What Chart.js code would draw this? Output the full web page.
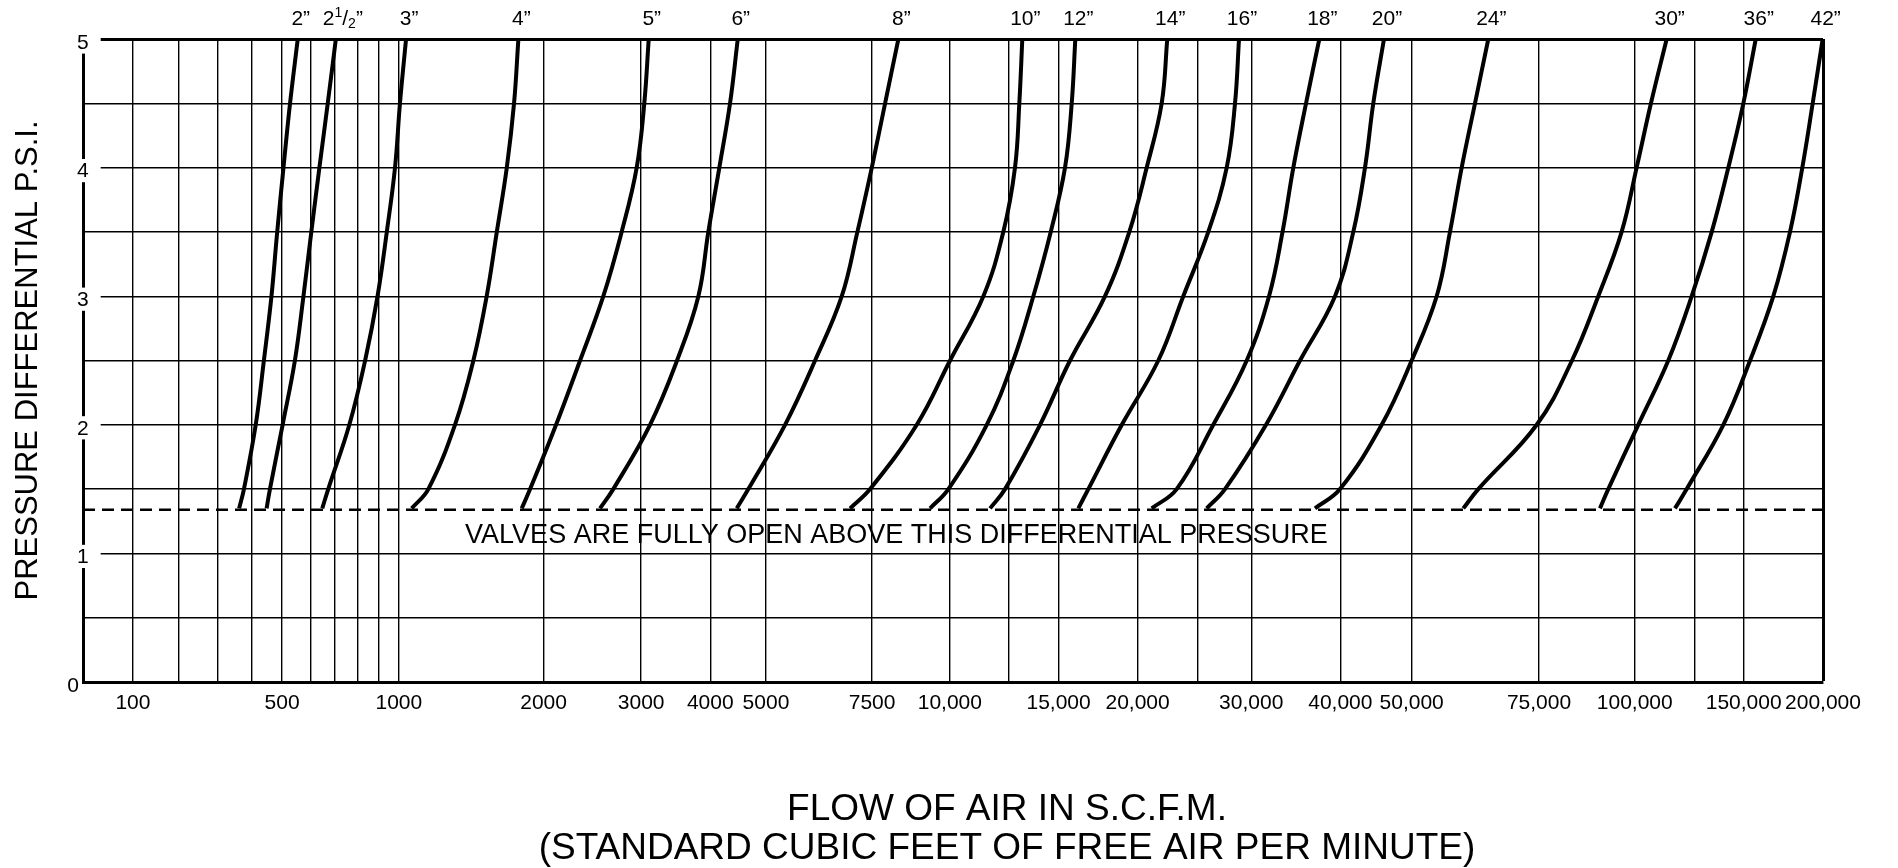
<!DOCTYPE html>
<html>
<head>
<meta charset="utf-8">
<script src="https://cdn.jsdelivr.net/npm/chart.js@4.4.1/dist/chart.umd.min.js"></script>
<style>
  html, body { margin: 0; padding: 0; background: #fff; }
  #wrap { width: 1898px; height: 868px; }
</style>
</head>
<body>
<div id="wrap"><canvas id="chart" width="1898" height="868"></canvas></div>
<script>
// pressure levels (psi) at which each curve was read
const psiLevels = [1.35, 1.5, 2, 2.5, 3, 3.5, 4, 4.5, 5];
const fullOpenPsi = 1.34;

// flow of air (scfm) per valve size, one value per psi level
const scfm2   = [363, 377, 413, 440, 465, 484, 505, 528, 555];
const scfm2_5 = [449, 460, 502, 545, 575, 603, 637, 672, 706];
const scfm3   = [649, 674, 763, 834, 894, 940, 981, 1008, 1050];
const scfm4   = [1089, 1204, 1388, 1515, 1607, 1677, 1746, 1796, 1826];
const scfm5   = [1849, 1907, 2128, 2374, 2612, 2800, 2954, 3045, 3109];
const scfm6   = [2578, 2714, 3128, 3519, 3828, 3972, 4163, 4355, 4494];
const scfm8   = [4476, 4684, 5450, 6157, 6786, 7154, 7493, 7918, 8345];
const scfm10  = [6982, 7453, 8936, 10008, 11415, 12259, 12802, 13019, 13170];
const scfm12  = [9364, 9952, 11558, 12717, 13725, 14602, 15405, 15829, 16057];
const scfm14  = [11698, 12331, 14063, 15722, 17937, 19475, 20751, 21988, 22450];
const scfm16  = [16247, 16880, 19000, 21708, 23771, 25953, 27689, 28472, 28849];
const scfm18  = [21163, 23226, 26425, 29575, 31998, 33513, 34725, 36150, 37643];
const scfm20  = [25802, 27528, 31661, 35477, 39405, 41821, 43459, 44622, 46120];
const scfm24  = [37160, 39966, 45798, 50000, 54910, 57522, 59819, 62431, 65043];
const scfm30  = [60134, 63079, 74548, 83612, 90475, 96581, 100797, 106795, 113381];
const scfm36  = [90919, 93085, 101468, 114052, 123867, 133791, 142226, 149848, 157620];
const scfm42  = [116862, 121770, 139685, 154030, 168703, 179219, 186965, 193514, 199800];

const valveSizes = ['2”', '2½”', '3”', '4”', '5”', '6”', '8”', '10”', '12”', '14”', '16”', '18”', '20”', '24”', '30”', '36”', '42”'];
const valveFlows = [scfm2, scfm2_5, scfm3, scfm4, scfm5, scfm6, scfm8, scfm10, scfm12, scfm14, scfm16, scfm18, scfm20, scfm24, scfm30, scfm36, scfm42];

// the flow axis of the original is hand ruled: grid values and where they sit (0..1 of axis)
const flowKnots = [0, 100, 200, 300, 400, 500, 600, 700, 800, 900, 1000, 2000, 3000, 4000, 5000, 7500,
  10000, 12500, 15000, 20000, 25000, 30000, 40000, 50000, 75000, 100000, 125000, 150000, 200000];
const flowKnotPos = [0, 0.0287, 0.0552, 0.0774, 0.0970, 0.1144, 0.1308, 0.1445, 0.1581, 0.1700, 0.1815,
  0.2647, 0.3208, 0.3605, 0.3925, 0.4535, 0.4982, 0.5322, 0.5607, 0.6061, 0.6409, 0.6714, 0.7226,
  0.7636, 0.8368, 0.8918, 0.9261, 0.9544, 1];
const flowTickValues = [100, 500, 1000, 2000, 3000, 4000, 5000, 7500, 10000, 15000, 20000, 30000,
  40000, 50000, 75000, 100000, 150000, 200000];
const flowTickLabels = ['100', '500', '1000', '2000', '3000', '4000', '5000', '7500', '10,000', '15,000',
  '20,000', '30,000', '40,000', '50,000', '75,000', '100,000', '150,000', '200,000'];

const FONT = '"Liberation Sans", Arial, Helvetica, sans-serif';

function flowToDecimal(v) {
  const n = flowKnots.length;
  if (v <= flowKnots[0]) return flowKnotPos[0];
  if (v >= flowKnots[n - 1]) return flowKnotPos[n - 1];
  let i = 0;
  while (v > flowKnots[i + 1]) i++;
  const t = (v - flowKnots[i]) / (flowKnots[i + 1] - flowKnots[i]);
  return flowKnotPos[i] + t * (flowKnotPos[i + 1] - flowKnotPos[i]);
}

function decimalToFlow(d) {
  const n = flowKnotPos.length;
  if (d <= 0) return flowKnots[0];
  if (d >= 1) return flowKnots[n - 1];
  let i = 0;
  while (d > flowKnotPos[i + 1]) i++;
  const t = (d - flowKnotPos[i]) / (flowKnotPos[i + 1] - flowKnotPos[i]);
  return flowKnots[i] + t * (flowKnots[i + 1] - flowKnots[i]);
}

class FlowScale extends Chart.Scale {
  static id = 'flow';
  static defaults = {};
  determineDataLimits() {
    this.min = flowKnots[0];
    this.max = flowKnots[flowKnots.length - 1];
  }
  buildTicks() {
    return flowKnots.slice(1).map(v => ({ value: v }));
  }
  getLabelForValue(v) { return String(v); }
  getPixelForValue(v) { return this.getPixelForDecimal(flowToDecimal(v)); }
  getPixelForTick(index) {
    const t = this.ticks;
    if (index < 0 || index > t.length - 1) return null;
    return this.getPixelForValue(t[index].value);
  }
  getValueForPixel(p) { return decimalToFlow(this.getDecimalForPixel(p)); }
}
Chart.register(FlowScale);

const datasets = valveFlows.map((flows, i) => ({
  label: valveSizes[i],
  data: flows.map((f, j) => ({ x: f, y: psiLevels[j] })),
  borderColor: '#000',
  borderWidth: 4,
  borderCapStyle: 'butt',
  pointRadius: 0,
  tension: 0.4,
  fill: false
}));

datasets.push({
  label: 'fully open',
  data: [{ x: flowKnots[0], y: fullOpenPsi }, { x: flowKnots[flowKnots.length - 1], y: fullOpenPsi }],
  borderColor: '#000',
  borderWidth: 2.5,
  borderDash: [12, 7],
  pointRadius: 0,
  fill: false
});

function drawSizeLabel(ctx, text, x, y) {
  // 2½” is set as 2 ¹/₂ ” like the original
  const big = '21px ' + FONT, small = '14px ' + FONT;
  const parts = [];
  for (const ch of text) {
    if (ch === '½') {
      parts.push({ t: '1', f: small, dy: -6 });
      parts.push({ t: '/', f: big, dy: 0 });
      parts.push({ t: '2', f: small, dy: 5 });
    } else {
      parts.push({ t: ch, f: big, dy: 0 });
    }
  }
  let w = 0;
  parts.forEach(p => { ctx.font = p.f; p.w = ctx.measureText(p.t).width; w += p.w; });
  let cx = x - w / 2;
  ctx.textAlign = 'left';
  ctx.textBaseline = 'middle';
  parts.forEach(p => { ctx.font = p.f; ctx.fillText(p.t, cx, y + p.dy); cx += p.w; });
}

const decorPlugin = {
  id: 'decor',
  afterDraw(chart) {
    const ctx = chart.ctx;
    const area = chart.chartArea;
    const ys = chart.scales.y;
    ctx.save();
    ctx.fillStyle = '#000';

    // zero of the psi axis sits below-left of the corner
    ctx.font = '21px ' + FONT;
    ctx.textAlign = 'center';
    ctx.textBaseline = 'middle';
    ctx.fillText('0', area.left - 10, ys.getPixelForValue(0) + 4);

    // valve size over the top of each curve
    valveSizes.forEach((name, i) => {
      const pts = chart.getDatasetMeta(i).data;
      const top = pts[pts.length - 1];
      const shift = name.includes('½') ? 7 : 3;
      drawSizeLabel(ctx, name, top.x + shift, area.top - 20);
    });

    // note under the dashed line
    ctx.font = '27px ' + FONT;
    ctx.textAlign = 'center';
    ctx.textBaseline = 'middle';
    ctx.fillText('VALVES ARE FULLY OPEN ABOVE THIS DIFFERENTIAL PRESSURE',
      area.left + area.width * 0.4675, ys.getPixelForValue(fullOpenPsi) + 26);

    // flow axis title
    ctx.font = '37px ' + FONT;
    const tx = (area.left + area.right) / 2 + 54;
    ctx.fillText('FLOW OF AIR IN S.C.F.M.', tx, area.bottom + 128);
    ctx.fillText('(STANDARD CUBIC FEET OF FREE AIR PER MINUTE)', tx, area.bottom + 167);
    ctx.restore();
  }
};

new Chart(document.getElementById('chart'), {
  type: 'line',
  data: { datasets },
  plugins: [decorPlugin],
  options: {
    responsive: false,
    devicePixelRatio: 1,
    animation: false,
    events: [],
    layout: { padding: { top: 39, right: 75, left: 0, bottom: 0 } },
    plugins: { legend: { display: false }, tooltip: { enabled: false } },
    scales: {
      x: {
        type: 'flow',
        position: 'bottom',
        afterFit: s => { s.height = 186; },
        grid: {
          color: '#000',
          lineWidth: c => (c.tick && c.tick.value === 200000 ? 3 : 1.4),
          drawTicks: false
        },
        border: { color: '#000', width: 3 },
        ticks: {
          autoSkip: false,
          maxRotation: 0,
          color: '#000',
          padding: 9,
          font: { family: FONT, size: 21 },
          callback: v => {
            const k = flowTickValues.indexOf(v);
            return k >= 0 ? flowTickLabels[k] : '';
          }
        }
      },
      y: {
        type: 'linear',
        min: 0,
        max: 5,
        afterFit: s => { s.width = 83; },
        grid: {
          color: '#000',
          lineWidth: c => (c.tick && c.tick.value === 5 ? 3 : 1.4),
          drawTicks: false
        },
        border: { color: '#000', width: 3 },
        title: {
          display: true,
          text: 'PRESSURE DIFFERENTIAL P.S.I.',
          color: '#000',
          font: { family: FONT, size: 31 },
          padding: { top: 10, bottom: 0 }
        },
        ticks: {
          stepSize: 0.5,
          mirror: true,
          color: '#000',
          padding: -6,
          labelOffset: 4,
          font: { family: FONT, size: 21 },
          showLabelBackdrop: c => Number.isInteger(c.tick.value) && c.tick.value > 0,
          backdropColor: c => (Number.isInteger(c.tick.value) && c.tick.value > 0 ? '#fff' : 'rgba(0,0,0,0)'),
          backdropPadding: { top: 0, bottom: -2, left: 1, right: 12 },
          callback: v => (Number.isInteger(v) && v > 0 ? String(v) : '')
        }
      }
    }
  }
});
</script>
</body>
</html>
